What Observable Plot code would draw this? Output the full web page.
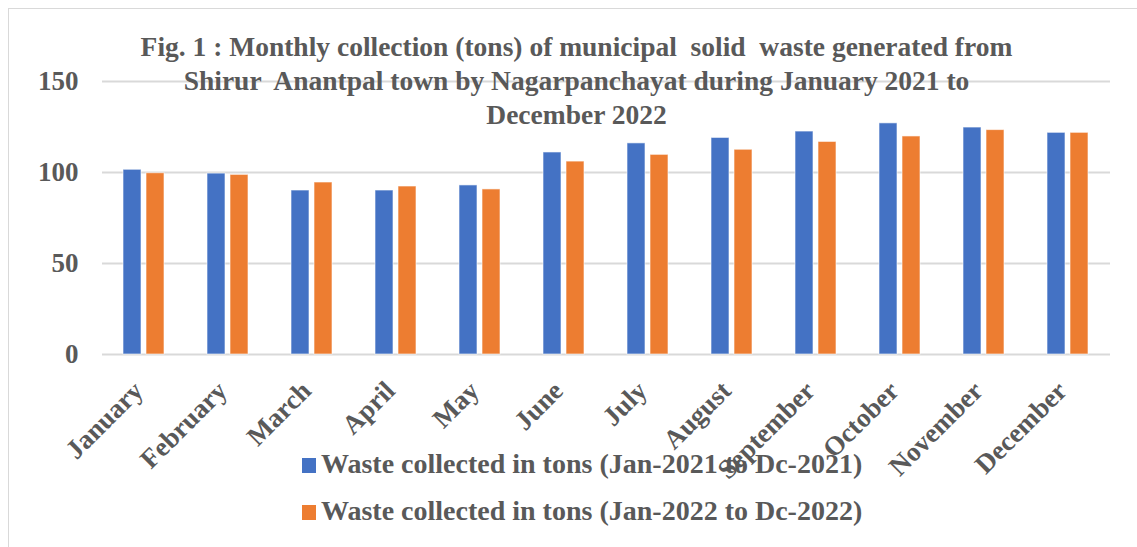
<!DOCTYPE html>
<html>
<head>
<meta charset="utf-8">
<script src="https://cdn.jsdelivr.net/npm/d3@7"></script>
<script src="https://cdn.jsdelivr.net/npm/@observablehq/plot@0.6"></script>
<style>
  body { margin: 0; background: #fff; }
  #wrap { position: relative; width: 1137px; height: 547px; overflow: hidden; font-family: "Liberation Serif", "Times New Roman", serif; }
  #frame { position: absolute; left: 8px; top: 8px; width: 1200px; height: 600px; border: 1px solid #d9d9d9; box-sizing: border-box; }
  #title { position: absolute; left: 0; top: 30px; width: 1153px; text-align: center; font-weight: bold; font-size: 27.5px; line-height: 34px; color: #595959; white-space: pre; }
  #legend { position: absolute; left: 302px; top: 440px; color: #595959; font-weight: bold; font-size: 28px; line-height: 47px; white-space: pre; }
  .sw { display: inline-block; width: 14px; height: 15px; margin-right: 5px; vertical-align: baseline; }
  #chart { position: absolute; left: 0; top: 0; }
</style>
</head>
<body>
<div id="wrap">
  <div id="frame"></div>
  <div id="chart"></div>
  <div id="title"></div>
  <div id="legend"></div>
</div>
<script>
const titleLines = [
  "Fig. 1 : Monthly collection (tons) of municipal  solid  waste generated from",
  "Shirur  Anantpal town by Nagarpanchayat during January 2021 to",
  "December 2022"
];
const months = ["January","February","March","April","May","June","July","August","September","October","November","December"];
const seriesNames = [
  "Waste collected in tons (Jan-2021 to Dc-2021)",
  "Waste collected in tons (Jan-2022 to Dc-2022)"
];
const values2021 = [101.5, 99.4, 90.1, 90.1, 92.9, 111, 116, 119, 122.5, 127, 124.7, 121.8];
const values2022 = [99.6, 98.7, 94.5, 92.3, 90.7, 106, 109.7, 112.5, 116.8, 119.8, 123.3, 121.8];
const colors = ["#4472C4", "#ED7D31"];
const yTicks = [0, 50, 100, 150];

const data = [];
months.forEach((m, i) => {
  data.push({month: m, series: seriesNames[0], value: values2021[i]});
  data.push({month: m, series: seriesNames[1], value: values2022[i]});
});

const chart = Plot.plot({
  width: 1137,
  height: 547,
  marginLeft: 97,
  marginRight: 23,
  marginTop: 81,
  marginBottom: 193,
  style: {fontFamily: "'Liberation Serif', 'Times New Roman', serif", background: "transparent"},
  fx: {domain: months, padding: 0, axis: null},
  x: {domain: seriesNames, paddingInner: 5 / 24, paddingOuter: 0.87, axis: null},
  y: {domain: [0, 150], axis: null},
  color: {domain: seriesNames, range: colors},
  marks: [
    Plot.ruleY(yTicks, {stroke: "#d9d9d9", strokeWidth: 2}),
    Plot.barY(data, {fx: "month", x: "series", y: "value", fill: "series", stroke: "white", strokeWidth: 1, strokeOpacity: 0.6}),
    Plot.axisY({ticks: yTicks, tickSize: 0, tickPadding: 24, fontSize: 27, fontWeight: "bold", fill: "#595959", label: null}),
    Plot.text(months, {fx: d => d, text: d => d, frameAnchor: "bottom", rotate: -45, textAnchor: "end", dy: 38, dx: 0, fontSize: 27, fontWeight: "bold", fill: "#595959"})
  ]
});
document.getElementById("chart").appendChild(chart);

document.getElementById("title").textContent = titleLines.join("\n");
const legend = document.getElementById("legend");
seriesNames.forEach((s, i) => {
  const item = document.createElement("div");
  const sw = document.createElement("span");
  sw.className = "sw";
  sw.style.background = colors[i];
  item.appendChild(sw);
  item.appendChild(document.createTextNode(s));
  legend.appendChild(item);
});
</script>
</body>
</html>
